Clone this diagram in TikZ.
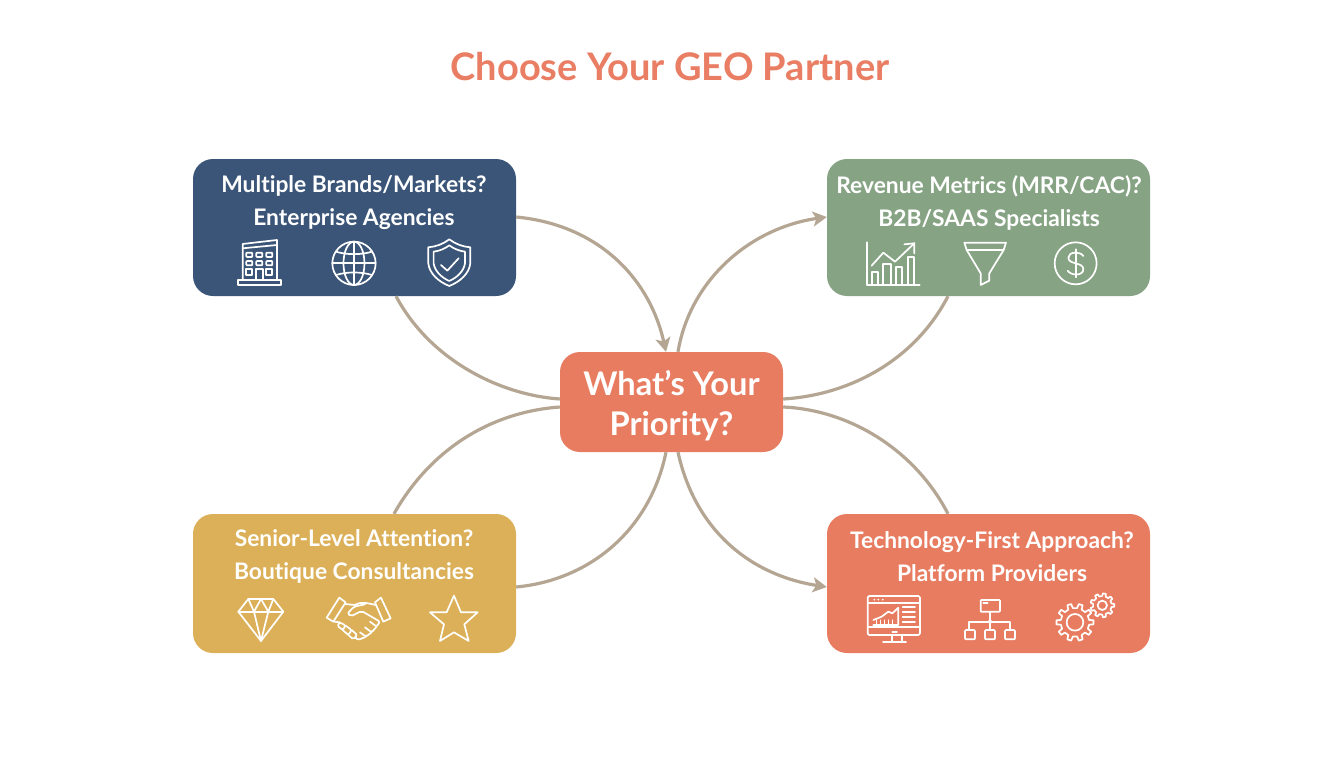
\documentclass[tikz,border=0pt]{standalone}
\usepackage{fontspec}
\setmainfont{Lato}[RawFeature={-liga}]
\usetikzlibrary{calc,arrows.meta}
\definecolor{navy}{HTML}{3B5578}
\definecolor{sage}{HTML}{86A384}
\definecolor{gold}{HTML}{DBB058}
\definecolor{coral}{HTML}{E87C60}
\definecolor{link}{HTML}{B5A693}
\definecolor{titlecol}{HTML}{E97E64}
\tikzset{
  card/.style={rounded corners=20pt,inner sep=0pt,minimum width=323pt,fill=#1},
  cardtext/.style={text=white,align=center,font=\fontsize{22.8}{33}\selectfont\bfseries},
  link/.style={draw=link,line width=3.2pt},
  linkarrow/.style={link,-{Stealth[length=14pt,width=15pt,inset=3.5pt]}},
  icon/.style={draw=white,line width=1.7pt,line join=round,line cap=round},
  zoomed/.style={shift={#1},x=.3333pt,y=-.3333pt}
}
\newcommand{\gearicon}[6]{% cx cy teeth rout rin hole
  \begin{scope}[shift={(#1,#2)}]
    \pgfmathsetmacro{\st}{360/#3}
    \pgfmathsetmacro{\wa}{\st*.17}
    \pgfmathsetmacro{\wb}{\st*.27}
    \draw[icon] (-\wb:#5)
      \foreach \i in {1,...,#3}{
        -- ({(\i-1)*\st-\wa}:#4) -- ({(\i-1)*\st+\wa}:#4)
        -- ({(\i-1)*\st+\wb}:#5) -- ({\i*\st-\wb}:#5)
      } -- cycle;
    \draw[icon] (0,0) circle (#6);
  \end{scope}}
\begin{document}
\begin{tikzpicture}[x=1pt,y=-1pt]
\path[use as bounding box,fill=white] (0,0) rectangle (1344,768);

\node[font=\fontsize{38}{44}\selectfont\bfseries,text=titlecol] (title) at (670,67) {Choose Your GEO Partner};

\node[card=navy,minimum height=137pt] (nw) at (354.5,227.5) {};
\node[card=sage,minimum height=137pt] (ne) at (988.5,227.5) {};
\node[card=gold,minimum height=139pt] (sw) at (354.5,583.5) {};
\node[card=coral,minimum height=139pt] (se) at (988.5,583.5) {};
\node[rounded corners=20pt,inner sep=0pt,minimum width=223pt,minimum height=100pt,fill=coral] (hub) at (671.5,402) {};

\node[cardtext] (nwt) at (354,202.5) {Multiple Brands/Markets?\\Enterprise Agencies};
\node[cardtext] (net) at (989,202.5) {Revenue Metrics (MRR/CAC)?\\B2B/SAAS Specialists};
\node[cardtext] (swt) at (354,556.5) {Senior-Level Attention?\\Boutique Consultancies};
\node[cardtext] (set) at (992,556.5) {Technology-First Approach?\\Platform Providers};
\node[text=white,align=center,font=\fontsize{32.6}{40}\selectfont\bfseries] (hubt) at (671.5,405.5) {What’s Your\\Priority?};

% connectors
\draw[linkarrow] ($(nw.east)+(0,-10.5)$) .. controls (600,225) and (650,280) .. ($(hub.north)+(-5.5,0)$);
\draw[link] ($(nw.south)+(41.5,0)$) .. controls (430,360) and (500,395) .. ($(hub.west)+(0,-3)$);
\draw[linkarrow] ($(hub.north)+(6.5,0)$) .. controls (690,280) and (750,228) .. ($(ne.west)+(0,-10.5)$);
\draw[link] ($(hub.east)+(0,-3)$) .. controls (850,395) and (915,360) .. ($(ne.south)+(-40.5,0)$);
\draw[link] ($(hub.west)+(0,5)$) .. controls (490,412) and (430,450) .. ($(sw.north)+(39.5,0)$);
\draw[link] ($(hub.south)+(-5.5,0)$) .. controls (650,530) and (590,580) .. ($(sw.east)+(0,3.5)$);
\draw[linkarrow] ($(hub.south)+(6.5,0)$) .. controls (695,530) and (750,575) .. ($(se.west)+(0,3.5)$);
\draw[link] ($(hub.east)+(0,5)$) .. controls (850,410) and (915,450) .. ($(se.north)+(-40.5,0)$);

% NW icons
\begin{scope}[zoomed={(180,150)}]
  \draw[icon] (175,390) rectangle (303,405);
  \draw[icon] (188,390) -- (188,282) -- (291,270) -- (291,390);
  \draw[icon] (188,295) -- (291,285);
  \foreach \x/\y in {199/308,229/308,259/308,199/333,229/333,259/333}{
    \draw[icon,rounded corners=.7pt] (\x,\y) rectangle +(18,13);}
  \draw[icon] (199,358) rectangle +(18,16);
  \draw[icon] (259,358) rectangle +(18,16);
  \draw[icon] (228,390) -- (228,356) -- (250,356) -- (250,390);
  % globe
  \draw[icon] (522,340) circle (65);
  \draw[icon] (522,340) ellipse (10.5pt and 21.7pt);
  \draw[icon] (522,275) -- (522,405);
  \draw[icon] (457,340) -- (587,340);
  \draw[icon] (468,305) .. controls (500,315) and (544,315) .. (576,305);
  \draw[icon] (468,375) .. controls (500,365) and (544,365) .. (576,375);
  % shield
  \draw[icon] (808,268) .. controls (790,282) and (768,290) .. (745,292)
     -- (745,340) .. controls (748,370) and (775,395) .. (808,408)
     .. controls (841,395) and (868,370) .. (871,340) -- (871,292)
     .. controls (848,290) and (826,282) .. (808,268) -- cycle;
  \draw[icon] (808,286) .. controls (795,296) and (778,303) .. (761,305)
     -- (761,340) .. controls (764,362) and (783,382) .. (808,393)
     .. controls (833,382) and (852,362) .. (855,340) -- (855,305)
     .. controls (838,303) and (821,296) .. (808,286) -- cycle;
  \draw[icon] (783,345) -- (802,362) -- (836,325);
\end{scope}

% NE icons
\begin{scope}[zoomed={(815,150)}]
  \draw[icon] (155,277) -- (155,405) -- (314,405);
  \draw[icon] (170,405) -- (170,365) -- (190,365) -- (190,405);
  \draw[icon] (205,405) -- (205,342) -- (228,342) -- (228,405);
  \draw[icon] (242,405) -- (242,352) -- (262,352) -- (262,405);
  \draw[icon] (278,405) -- (278,320) -- (298,320) -- (298,405);
  \draw[icon] (170,347) -- (205,308) -- (240,335) -- (298,280);
  \draw[icon] (268,283) -- (298,280) -- (298,310);
  % funnel
  \draw[icon] (448,278) -- (573,278) -- (566,300) -- (455,300) -- cycle;
  \draw[icon] (455,300) -- (497,370) -- (497,405) -- (523,392) -- (523,370) -- (566,300);
  % dollar
  \draw[icon] (782,340) circle (63);
  \draw[icon] (782,298) -- (782,382);
  \draw[icon] (805,318) .. controls (795,303) and (760,305) .. (760,323)
     .. controls (760,345) and (805,335) .. (805,358)
     .. controls (805,378) and (768,378) .. (758,362);
\end{scope}

% SW icons
\begin{scope}[zoomed={(180,505)}]
  \draw[icon] (175,320) -- (205,282) -- (280,282) -- (310,320) -- (243,408) -- cycle;
  \draw[icon] (175,320) -- (310,320);
  \draw[icon] (205,282) -- (222,320) -- (243,282) -- (265,320) -- (280,282);
  \draw[icon] (222,320) -- (243,408) -- (265,320);
  % handshake
  \draw[icon] (440,338) -- (478,278) -- (497,292) -- (460,350) -- cycle;
  \draw[icon] (585,292) -- (603,278) -- (632,340) -- (610,350) -- cycle;
  \draw[icon] (495,297) -- (525,300) .. controls (545,288) and (565,295) .. (587,300);
  \draw[icon,rounded corners=2pt] (555,298) -- (522,305) -- (503,325) -- (512,334) -- (545,318) -- (600,350) -- (590,365) -- (570,350);
  \draw[icon,rounded corners=1.5pt] (590,365) -- (575,382) -- (555,367);
  \draw[icon,rounded corners=1.5pt] (575,382) -- (558,395) -- (540,382);
  \draw[icon,rounded corners=1.5pt] (558,395) -- (535,405) -- (525,397);
  \draw[icon] (462,350) -- (480,352);
  \draw[icon,rounded corners=1.5pt] (480,352) -- (472,362) -- (488,375) -- (497,362) -- cycle;
  \draw[icon,rounded corners=1.5pt] (488,375) -- (505,390) -- (515,375) -- (497,362);
  \draw[icon,rounded corners=1.5pt] (505,390) -- (520,403) -- (532,390) -- (515,375);
  % star
  \draw[icon] (822,272) -- (843,322) -- (893,322) -- (853,358) -- (866,408)
     -- (822,382) -- (780,408) -- (792,358) -- (750,322) -- (800,322) -- cycle;
\end{scope}

% SE icons
\begin{scope}[zoomed={(815,505)}]
  \draw[icon,rounded corners=1.5pt] (158,273) rectangle (315,390);
  \draw[icon] (158,295) -- (315,295);
  \draw[icon] (158,365) -- (315,365);
  \foreach \x in {178,190,203}{\fill[white] (\x,284) circle (3);}
  \draw[icon] (175,345) -- (200,335) -- (220,320) -- (232,325) -- (250,308) -- (250,360) -- (175,360);
  \foreach \x in {185,197,209,221,233}{\draw[icon,line width=1pt] (\x,360) -- (\x,345);}
  \foreach \y in {305,320,335,352}{\draw[icon] (263,\y) -- (300,\y);}
  \draw[icon] (232,380) -- (246,380);
  \draw[icon] (230,390) -- (230,410);
  \draw[icon] (262,390) -- (262,410);
  \draw[icon] (204,410) -- (273,410);
  % hierarchy
  \draw[icon,rounded corners=.7pt] (497,285) rectangle (555,320);
  \draw[icon] (505,295) -- (518,295);
  \draw[icon] (525,320) -- (525,375);
  \draw[icon] (462,375) -- (462,350) -- (585,350) -- (585,375);
  \fill[white] (525,350) circle (6);
  \foreach \x in {450,510,570}{\draw[icon,rounded corners=1pt] (\x,375) rectangle +(30,28);}
  % gears
  \gearicon{780}{352}{10}{56}{43}{25}
  \gearicon{862}{301}{9}{36}{28}{14}
\end{scope}
\end{tikzpicture}
\end{document}
